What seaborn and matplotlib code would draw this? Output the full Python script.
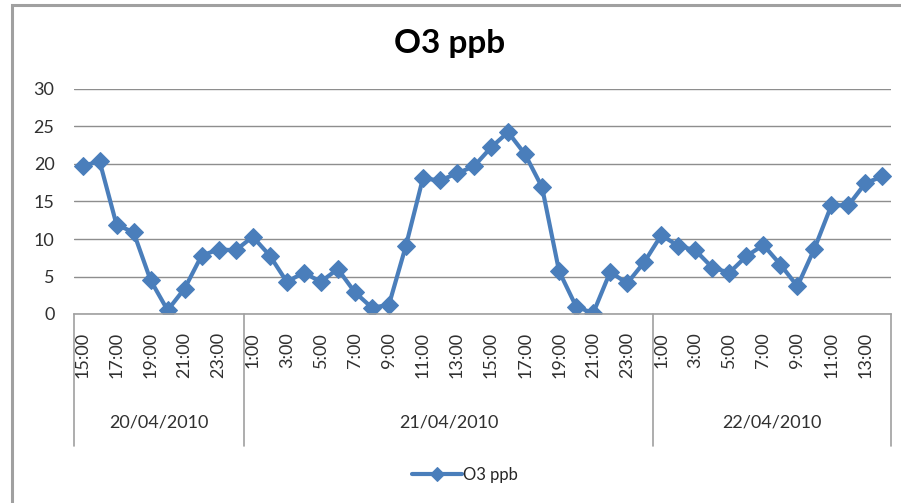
import numpy as np
import pandas as pd
import matplotlib
matplotlib.use("Agg")
import matplotlib.pyplot as plt
import matplotlib.transforms as mtransforms
from matplotlib.patches import Rectangle
import seaborn as sns

# data
DAYS = ["20/04/2010", "21/04/2010", "22/04/2010"]
HOURS_D1 = [15, 16, 17, 18, 19, 20, 21, 22, 23, 0]
HOURS_D2 = [1, 2, 3, 4, 5, 6, 7, 8, 9, 10, 11, 12, 13, 14, 15, 16, 17, 18, 19, 20, 21, 22, 23, 0]
HOURS_D3 = [1, 2, 3, 4, 5, 6, 7, 8, 9, 10, 11, 12, 13, 14]
O3_D1 = [19.7, 20.4, 11.9, 10.9, 4.5, 0.5, 3.4, 7.8, 8.6, 8.5]
O3_D2 = [10.3, 7.8, 4.3, 5.5, 4.3, 6.0, 2.9, 0.85, 1.2, 9.1, 18.1, 17.8,
         18.75, 19.7, 22.2, 24.25, 21.3, 16.9, 5.7, 1.0, 0.1, 5.6, 4.1, 6.9]
O3_D3 = [10.5, 9.1, 8.5, 6.2, 5.5, 7.7, 9.2, 6.6, 3.7, 8.7, 14.5, 14.5, 17.45, 18.35]

LINE_COLOR = "#4a7ebb"
GRID_COLOR = "#8e8e8e"
TICKSIZE = 13

rows = []
for day, hours, vals in zip(DAYS, [HOURS_D1, HOURS_D2, HOURS_D3], [O3_D1, O3_D2, O3_D3]):
    for h, v in zip(hours, vals):
        rows.append({"day": day, "hour": f"{h}:00", "o3": v})
df = pd.DataFrame(rows)
df["pos"] = np.arange(len(df))

sns.set_theme(style="white")
plt.rcParams["font.family"] = ["Lato", "DejaVu Sans"]

fig = plt.figure(figsize=(9.01, 5.03), dpi=100)
ax = fig.add_axes([74 / 901, 1 - 314 / 503, 817 / 901, 225 / 503])

sns.lineplot(data=df, x="pos", y="o3", ax=ax, color=LINE_COLOR, linewidth=3.0,
             marker="D", markersize=9, markeredgecolor=LINE_COLOR, label="O3 ppb")

ax.set_xlim(-0.5, len(df) - 0.5)
ax.set_ylim(0, 30)
ax.set_yticks(np.arange(0, 31, 5))
ax.yaxis.grid(True, color=GRID_COLOR, linewidth=1)
ax.set_axisbelow(True)
for s in ["top", "right", "left"]:
    ax.spines[s].set_visible(False)
ax.spines["bottom"].set_color("#a0a0a0")
ax.spines["bottom"].set_linewidth(1.2)

even = df[df["pos"] % 2 == 0]
ax.set_xticks(even["pos"])
ax.set_xticklabels(even["hour"], rotation=90, fontsize=TICKSIZE, color="#303030")
ax.tick_params(axis="x", length=0, pad=13)
ax.tick_params(axis="y", length=0, pad=14, labelsize=TICKSIZE, labelcolor="#303030")
ax.set_xlabel("")
ax.set_ylabel("")
ax.legend_.remove()

# day group boxes under the axis
trans = mtransforms.blended_transform_factory(ax.transData, ax.transAxes)
depth = (446 - 314) / 225
counts = df.groupby("day", sort=False).size()
edges = np.concatenate([[0], np.cumsum(counts.values)]) - 0.5
for e in edges:
    ax.plot([e, e], [0, -depth], transform=trans, color="#a0a0a0", lw=1.2, clip_on=False)
for day, a, b in zip(counts.index, edges[:-1], edges[1:]):
    ax.text((a + b) / 2, -(423 - 314) / 225, day, transform=trans, ha="center",
            va="center", fontsize=TICKSIZE, color="#303030")

fig.suptitle("O3 ppb", x=450 / 901, y=1 - 43 / 503, va="center", fontsize=24,
             fontweight="bold", color="black")

handles, labels = ax.get_legend_handles_labels()
leg = fig.legend(handles, labels, loc="center", bbox_to_anchor=(465 / 901, 1 - 475 / 503),
                 frameon=False, fontsize=12, handlelength=3.0, handletextpad=0.05)
for h in leg.legend_handles:
    h.set_markersize(7)

# chart area border
fig.patches.append(Rectangle((12 / 901, -0.1), 1.2, 1.1 - 5 / 503,
                             transform=fig.transFigure, fill=False,
                             edgecolor="#a0a0a0", linewidth=2.2))

fig.savefig("out.png", dpi=100)
